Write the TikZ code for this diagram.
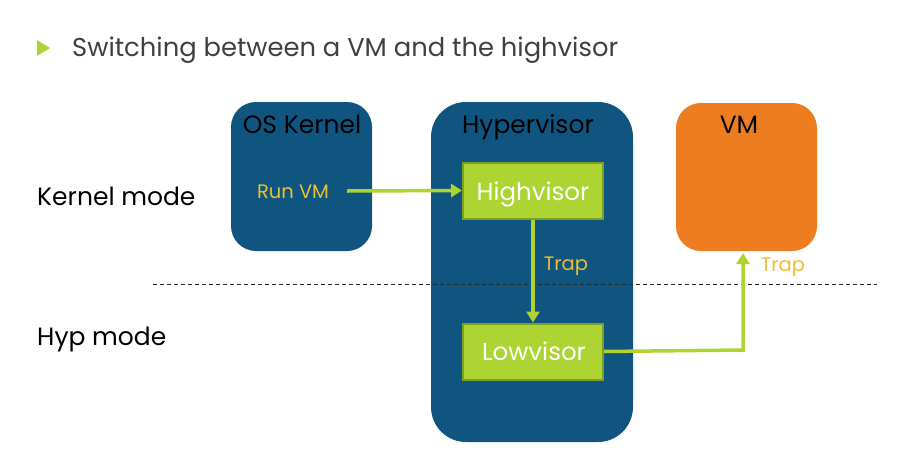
\documentclass[tikz,border=0pt]{standalone}
\usepackage{fontspec}
\setmainfont{Poppins}
\usetikzlibrary{arrows.meta}
\definecolor{dblue}{RGB}{16,85,128}
\definecolor{vmorange}{RGB}{238,125,34}
\definecolor{lime}{RGB}{173,212,50}
\definecolor{limedark}{RGB}{122,160,38}
\definecolor{gold}{RGB}{236,190,50}
\definecolor{txtgray}{RGB}{64,64,64}
\tikzset{
  greenbox/.style={draw=limedark, line width=2pt, fill=lime, minimum width=140pt, minimum height=56pt, inner sep=0pt},
  greentext/.style={text=white, font=\fontsize{24.5}{24.5}\selectfont, inner sep=0pt, anchor=base},
  boxtitle/.style={text=black, font=\fontsize{25}{25}\selectfont, inner sep=0pt, anchor=base},
  modelabel/.style={text=black, font=\fontsize{25}{25}\selectfont, anchor=base west, inner sep=0pt},
  goldlabel/.style={text=gold, font=\fontsize{19.5}{19.5}\selectfont, inner sep=0pt, anchor=base},
  conn/.style={draw=lime, line width=3.5pt, -{Triangle[length=11pt,width=13pt]}},
}
\begin{document}
\begin{tikzpicture}[x=1pt,y=-1pt]
\useasboundingbox (0,0) rectangle (911,472);
% title
\fill[lime] (37,40) -- (50,48) -- (37,56) -- cycle;
\node[anchor=base west, text=txtgray, font=\fontsize{25.8}{25.8}\selectfont, inner sep=0pt] (title) at (72,56.5) {Switching between a VM and the highvisor};
% big boxes
\fill[dblue, rounded corners=25pt] (231,102) rectangle (372,251);
\fill[dblue, rounded corners=35pt] (431,102) rectangle (633,442);
\fill[vmorange, rounded corners=25pt] (676,103) rectangle (817,251);
\coordinate (vmbottom) at (743,251);
\node[boxtitle] (oskt) at (302,133) {OS Kernel};
\node[boxtitle] (hypt) at (528,133) {Hypervisor};
\node[boxtitle] (vmt) at (739,133) {VM};
% mode labels
\node[modelabel] (km) at (37,205.5) {Kernel mode};
\node[modelabel] (hm) at (37,345) {Hyp mode};
% dashed line
\draw[line width=0.8pt, dash pattern=on 4pt off 3pt, black!85] (153,284) -- (877,284);
% green boxes
\node[greenbox] (high) at (533,190.5) {};
\node[greentext] (hight) at (533,200) {Highvisor};
\node[greenbox] (low) at (533,351.5) {};
\node[greentext] (lowt) at (534,360) {Lowvisor};
% labels
\node[goldlabel] (run) at (293,198) {Run VM};
\node[goldlabel] (trap1) at (566,270.5) {Trap};
\node[goldlabel] (trap2) at (783,271.5) {Trap};
% connectors
\coordinate (runst) at (347,191);
\draw[conn] (runst) -- (high.west);
\draw[conn] (high.south) -- (low.north);
\draw[conn] (low.east) -- (743,350) -- (vmbottom |- 0,253);
\end{tikzpicture}
\end{document}
